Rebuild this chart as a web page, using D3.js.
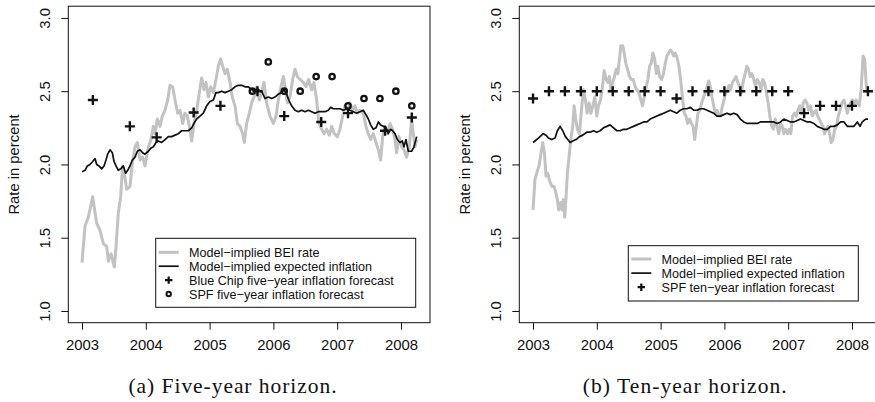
<!DOCTYPE html>
<html><head><meta charset="utf-8">
<script src="https://cdn.jsdelivr.net/npm/d3@7"></script>
<style>
body{margin:0;background:#fff}
svg{display:block}
text{font-family:"Liberation Sans",Arial,Helvetica,sans-serif;fill:#111}
</style>
</head><body>
<svg id="c" width="875" height="402"></svg>
<script>
// ---------- data ----------
const yearTicks = [2003, 2004, 2005, 2006, 2007, 2008];
const rateTicks = [1.0, 1.5, 2.0, 2.5, 3.0];
const rateTickLabels = ["1.0", "1.5", "2.0", "2.5", "3.0"];

// Panel (a): five-year horizon
const bei5Date = [2003.000,2003.047,2003.099,2003.167,2003.204,2003.230,2003.282,2003.334,2003.387,2003.413,
2003.455,2003.507,2003.533,2003.569,2003.606,2003.637,2003.664,2003.700,2003.752,2003.789,
2003.831,2003.867,2003.909,2003.951,2003.987,2004.040,2004.082,2004.118,2004.144,2004.181,
2004.223,2004.259,2004.301,2004.343,2004.379,2004.421,2004.458,2004.499,2004.536,2004.578,
2004.614,2004.651,2004.682,2004.719,2004.755,2004.797,2004.839,2004.876,2004.912,2004.944,
2004.980,2005.017,2005.059,2005.100,2005.137,2005.173,2005.205,2005.241,2005.278,2005.320,
2005.356,2005.398,2005.435,2005.476,2005.518,2005.544,2005.581,2005.623,2005.659,2005.696,
2005.738,2005.779,2005.816,2005.853,2005.894,2005.947,2005.999,2006.041,2006.077,2006.119,
2006.156,2006.182,2006.218,2006.260,2006.302,2006.339,2006.375,2006.417,2006.469,2006.511,
2006.553,2006.600,2006.636,2006.678,2006.715,2006.757,2006.793,2006.835,2006.877,2006.913,
2006.955,2007.002,2007.044,2007.086,2007.122,2007.164,2007.201,2007.242,2007.279,2007.316,
2007.357,2007.410,2007.451,2007.488,2007.525,2007.566,2007.608,2007.645,2007.681,2007.713,
2007.749,2007.786,2007.828,2007.869,2007.906,2007.932,2007.969,2008.010,2008.047,2008.089,
2008.131,2008.167,2008.193,2008.219,2008.246];
const bei5Rate = [1.33,1.58,1.64,1.78,1.67,1.60,1.55,1.46,1.44,1.34,
1.39,1.30,1.44,1.67,1.78,1.99,1.94,1.83,1.85,2.01,
2.12,2.15,2.03,2.05,1.99,2.12,2.17,2.26,2.21,2.31,
2.26,2.33,2.37,2.44,2.54,2.53,2.44,2.35,2.37,2.28,
2.35,2.33,2.26,2.16,2.28,2.37,2.49,2.59,2.51,2.56,
2.46,2.53,2.49,2.58,2.67,2.72,2.67,2.62,2.65,2.56,
2.46,2.40,2.28,2.26,2.21,2.15,2.28,2.35,2.42,2.46,
2.53,2.44,2.49,2.56,2.42,2.33,2.28,2.33,2.44,2.53,
2.60,2.53,2.42,2.46,2.58,2.65,2.60,2.58,2.56,2.53,
2.58,2.51,2.56,2.44,2.28,2.24,2.21,2.24,2.20,2.26,
2.21,2.19,2.24,2.33,2.40,2.37,2.42,2.37,2.40,2.35,
2.37,2.35,2.26,2.21,2.17,2.21,2.15,2.10,2.03,2.19,
2.26,2.21,2.28,2.24,2.17,2.08,2.19,2.12,2.10,2.05,
2.12,2.31,2.21,2.12,2.17];

const ei5Date = [2003.000,2003.047,2003.084,2003.125,2003.167,2003.204,2003.230,2003.266,2003.308,2003.345,
2003.376,2003.402,2003.439,2003.475,2003.502,2003.533,2003.569,2003.606,2003.648,2003.684,
2003.716,2003.752,2003.789,2003.831,2003.867,2003.909,2003.951,2003.987,2004.040,2004.076,
2004.118,2004.160,2004.196,2004.249,2004.301,2004.353,2004.405,2004.458,2004.510,2004.562,
2004.614,2004.667,2004.719,2004.755,2004.797,2004.850,2004.902,2004.954,2005.006,2005.059,
2005.100,2005.137,2005.189,2005.241,2005.294,2005.346,2005.398,2005.450,2005.503,2005.555,
2005.607,2005.659,2005.712,2005.764,2005.816,2005.868,2005.920,2005.973,2006.025,2006.077,
2006.130,2006.166,2006.208,2006.250,2006.286,2006.339,2006.391,2006.443,2006.495,2006.548,
2006.600,2006.652,2006.704,2006.757,2006.809,2006.861,2006.898,2006.939,2006.992,2007.044,
2007.096,2007.148,2007.201,2007.253,2007.305,2007.357,2007.410,2007.451,2007.488,2007.525,
2007.566,2007.608,2007.645,2007.681,2007.723,2007.765,2007.801,2007.838,2007.869,2007.906,
2007.943,2007.984,2008.021,2008.047,2008.078,2008.115,2008.167,2008.204,2008.246];
const ei5Rate = [1.95,1.96,1.99,2.00,2.02,2.04,2.00,1.99,1.97,1.99,
2.03,2.07,2.10,2.08,2.02,1.99,1.96,1.97,1.99,1.94,
1.96,1.99,2.03,2.05,2.09,2.10,2.08,2.07,2.09,2.11,
2.12,2.15,2.16,2.15,2.17,2.19,2.19,2.20,2.21,2.23,
2.23,2.23,2.25,2.28,2.31,2.33,2.35,2.40,2.43,2.44,
2.49,2.49,2.50,2.49,2.50,2.51,2.53,2.54,2.54,2.53,
2.53,2.51,2.51,2.51,2.50,2.45,2.46,2.45,2.46,2.48,
2.49,2.51,2.48,2.43,2.40,2.37,2.36,2.37,2.36,2.37,
2.36,2.35,2.36,2.36,2.36,2.37,2.39,2.38,2.38,2.38,
2.37,2.38,2.37,2.36,2.35,2.36,2.37,2.34,2.31,2.27,
2.24,2.25,2.29,2.27,2.26,2.25,2.21,2.24,2.23,2.21,
2.17,2.15,2.16,2.12,2.17,2.09,2.09,2.12,2.19];

const blueChip5Date = [2003.17,2003.75,2004.17,2004.75,2005.17,2005.75,2006.17,2006.75,2007.17,2007.75,2008.17];
const blueChip5Rate = [2.44,2.26,2.185,2.355,2.40,2.50,2.33,2.29,2.35,2.23,2.32];

const spf5Date = [2005.67,2005.92,2006.17,2006.42,2006.67,2006.92,2007.17,2007.42,2007.67,2007.92,2008.17];
const spf5Rate = [2.50,2.70,2.50,2.50,2.60,2.60,2.40,2.45,2.45,2.50,2.40];

// Panel (b): ten-year horizon
const bei10Date = [2003.000,2003.031,2003.058,2003.094,2003.126,2003.152,2003.178,2003.204,2003.230,2003.267,
2003.298,2003.330,2003.361,2003.382,2003.403,2003.435,2003.455,2003.476,2003.497,2003.518,
2003.539,2003.565,2003.592,2003.623,2003.644,2003.670,2003.696,2003.728,2003.759,2003.791,
2003.822,2003.848,2003.880,2003.906,2003.937,2003.969,2004.000,2004.026,2004.058,2004.089,
2004.115,2004.147,2004.173,2004.199,2004.220,2004.251,2004.277,2004.304,2004.330,2004.356,
2004.377,2004.408,2004.429,2004.455,2004.482,2004.513,2004.539,2004.571,2004.602,2004.628,
2004.660,2004.691,2004.717,2004.743,2004.775,2004.801,2004.827,2004.853,2004.880,2004.906,
2004.932,2004.958,2004.984,2005.016,2005.047,2005.073,2005.099,2005.126,2005.152,2005.178,
2005.204,2005.230,2005.257,2005.288,2005.314,2005.346,2005.372,2005.398,2005.424,2005.455,
2005.482,2005.508,2005.534,2005.560,2005.586,2005.613,2005.644,2005.675,2005.702,2005.728,
2005.754,2005.780,2005.806,2005.832,2005.859,2005.885,2005.911,2005.937,2005.969,2005.995,
2006.021,2006.047,2006.073,2006.099,2006.126,2006.157,2006.183,2006.209,2006.241,2006.267,
2006.293,2006.325,2006.351,2006.377,2006.403,2006.429,2006.461,2006.487,2006.513,2006.545,
2006.576,2006.602,2006.628,2006.660,2006.686,2006.712,2006.743,2006.770,2006.796,2006.827,
2006.853,2006.880,2006.906,2006.932,2006.958,2006.990,2007.016,2007.042,2007.068,2007.099,
2007.126,2007.152,2007.183,2007.209,2007.236,2007.267,2007.293,2007.319,2007.351,2007.377,
2007.403,2007.435,2007.461,2007.487,2007.518,2007.545,2007.571,2007.597,2007.623,2007.649,
2007.675,2007.702,2007.728,2007.759,2007.785,2007.812,2007.843,2007.874,2007.901,2007.927,
2007.953,2007.979,2008.005,2008.031,2008.063,2008.089,2008.115,2008.147,2008.173,2008.199,
2008.225,2008.241];
const bei10Rate = [1.69,1.90,1.94,1.99,2.08,2.15,2.08,1.92,1.94,1.88,
1.85,1.85,1.80,1.76,1.69,1.74,1.69,1.76,1.64,1.78,
1.94,2.05,2.17,2.26,2.40,2.31,2.24,2.21,2.37,2.51,
2.44,2.35,2.42,2.35,2.40,2.46,2.33,2.40,2.44,2.53,
2.64,2.58,2.56,2.60,2.51,2.56,2.60,2.65,2.62,2.72,
2.81,2.81,2.76,2.69,2.65,2.60,2.58,2.58,2.53,2.51,
2.49,2.44,2.40,2.46,2.53,2.58,2.67,2.69,2.76,2.72,
2.62,2.67,2.60,2.58,2.62,2.69,2.74,2.76,2.78,2.77,
2.74,2.76,2.73,2.67,2.58,2.44,2.35,2.33,2.28,2.31,
2.28,2.26,2.17,2.26,2.35,2.37,2.42,2.46,2.49,2.53,
2.57,2.53,2.46,2.40,2.35,2.37,2.33,2.33,2.40,2.44,
2.49,2.51,2.54,2.51,2.56,2.58,2.60,2.56,2.53,2.49,
2.56,2.62,2.67,2.65,2.60,2.62,2.58,2.53,2.58,2.56,
2.51,2.58,2.56,2.49,2.42,2.33,2.26,2.24,2.31,2.26,
2.21,2.28,2.26,2.21,2.24,2.21,2.24,2.21,2.33,2.35,
2.33,2.37,2.40,2.35,2.42,2.44,2.42,2.37,2.40,2.33,
2.35,2.37,2.33,2.31,2.28,2.26,2.21,2.24,2.26,2.21,
2.15,2.17,2.24,2.26,2.33,2.37,2.42,2.44,2.40,2.35,
2.40,2.42,2.44,2.40,2.44,2.42,2.40,2.53,2.74,2.72,
2.53,2.49];

const ei10Date = [2003.000,2003.058,2003.110,2003.162,2003.204,2003.241,2003.293,2003.346,2003.382,2003.424,
2003.466,2003.508,2003.545,2003.581,2003.623,2003.675,2003.728,2003.780,2003.843,2003.895,
2003.948,2004.000,2004.052,2004.105,2004.157,2004.209,2004.262,2004.314,2004.366,2004.419,
2004.471,2004.524,2004.576,2004.628,2004.681,2004.733,2004.785,2004.838,2004.890,2004.942,
2004.995,2005.047,2005.099,2005.152,2005.204,2005.257,2005.309,2005.361,2005.414,2005.466,
2005.518,2005.571,2005.623,2005.675,2005.728,2005.780,2005.832,2005.885,2005.937,2005.990,
2006.042,2006.094,2006.147,2006.199,2006.251,2006.304,2006.356,2006.408,2006.461,2006.513,
2006.565,2006.618,2006.670,2006.723,2006.775,2006.827,2006.880,2006.932,2006.984,2007.037,
2007.089,2007.141,2007.194,2007.246,2007.298,2007.351,2007.403,2007.455,2007.508,2007.560,
2007.613,2007.665,2007.717,2007.770,2007.822,2007.874,2007.927,2007.979,2008.031,2008.084,
2008.126,2008.162,2008.215,2008.251];
const ei10Rate = [2.15,2.17,2.19,2.21,2.20,2.18,2.17,2.18,2.23,2.26,
2.23,2.19,2.17,2.15,2.16,2.17,2.19,2.20,2.22,2.22,
2.23,2.22,2.23,2.25,2.26,2.27,2.25,2.23,2.23,2.24,
2.24,2.25,2.26,2.27,2.28,2.29,2.29,2.31,2.32,2.33,
2.34,2.35,2.36,2.37,2.36,2.35,2.37,2.38,2.38,2.39,
2.37,2.37,2.38,2.38,2.37,2.36,2.35,2.33,2.33,2.34,
2.35,2.34,2.35,2.34,2.31,2.29,2.28,2.28,2.28,2.28,
2.29,2.29,2.29,2.29,2.29,2.28,2.29,2.31,2.30,2.29,
2.29,2.30,2.31,2.30,2.29,2.29,2.28,2.26,2.25,2.24,
2.24,2.26,2.26,2.27,2.29,2.29,2.26,2.26,2.26,2.29,
2.26,2.29,2.31,2.31];

const spf10Date = [2003.00,2003.25,2003.50,2003.75,2004.00,2004.25,2004.50,2004.75,2005.00,2005.25,2005.50,
2005.75,2006.00,2006.25,2006.50,2006.75,2007.00,2007.25,2007.50,2007.75,2008.00,2008.25];
const spf10Rate = [2.45,2.50,2.50,2.50,2.50,2.50,2.50,2.50,2.50,2.45,2.50,
2.50,2.50,2.50,2.50,2.50,2.50,2.35,2.40,2.40,2.40,2.50];

const legend5 = ["Model\u2212implied BEI rate", "Model\u2212implied expected inflation",
  "Blue Chip five\u2212year inflation forecast", "SPF five\u2212year inflation forecast"];
const legend10 = ["Model\u2212implied BEI rate", "Model\u2212implied expected inflation",
  "SPF ten\u2212year inflation forecast"];
const captions = ["(a) Five-year horizon.", "(b) Ten-year horizon."];
const axisTitle = "Rate in percent";

// ---------- drawing ----------
const GRAY = "#c2c2c2";
const svg = d3.select("#c");
const frame = {left: 68.3, right: 430, top: 6.2, bottom: 322.7};
const x = d3.scaleLinear().domain([2002.785, 2008.455]).range([frame.left, frame.right]);
const y = d3.scaleLinear().domain([0.92, 3.08]).range([frame.bottom, frame.top]);
const zip = (a, b) => a.map((d, i) => [d, b[i]]);
const line = d3.line().x(d => x(d[0])).y(d => y(d[1]));
const plusPath = s => `M${-s},0H${s}M0,${-s}V${s}`;

function drawPanel(dx, cfg) {
  const g = svg.append("g").attr("transform", `translate(${dx},0)`);

  // series
  g.append("path").datum(zip(cfg.beiDate, cfg.beiRate)).attr("d", line)
    .attr("fill", "none").attr("stroke", GRAY).attr("stroke-width", 3)
    .attr("stroke-linejoin", "round");
  g.append("path").datum(zip(cfg.eiDate, cfg.eiRate)).attr("d", line)
    .attr("fill", "none").attr("stroke", "#111").attr("stroke-width", 1.7)
    .attr("stroke-linejoin", "round");

  cfg.markers.forEach(m => {
    const pts = zip(m.date, m.rate);
    if (m.shape === "plus") {
      g.append("g").selectAll("path").data(pts).join("path")
        .attr("transform", d => `translate(${x(d[0])},${y(d[1])})`)
        .attr("d", plusPath(5)).attr("stroke", "#111").attr("stroke-width", 2.4).attr("fill", "none");
    } else {
      g.append("g").selectAll("circle").data(pts).join("circle")
        .attr("cx", d => x(d[0])).attr("cy", d => y(d[1])).attr("r", 2.7)
        .attr("stroke", "#111").attr("stroke-width", 2.3).attr("fill", "none");
    }
  });

  // frame
  g.append("rect").attr("x", frame.left).attr("y", frame.top)
    .attr("width", frame.right - frame.left).attr("height", frame.bottom - frame.top)
    .attr("fill", "none").attr("stroke", "#111").attr("stroke-width", 1);

  // axes
  const ax = g.append("g").attr("transform", `translate(0,${frame.bottom})`)
    .call(d3.axisBottom(x).tickValues(yearTicks).tickFormat(d3.format("d")).tickSize(7).tickSizeOuter(0).tickPadding(9.5));
  ax.select(".domain").remove();
  ax.selectAll("line").attr("stroke", "#111");
  ax.selectAll("text").attr("font-size", 14.9).attr("fill", "#111")
    .style("font-family", '"Liberation Sans",Arial,sans-serif');

  const ay = g.append("g").attr("transform", `translate(${frame.left},0)`)
    .call(d3.axisLeft(y).tickValues(rateTicks).tickFormat((d, i) => rateTickLabels[i]).tickSize(7).tickSizeOuter(0));
  ay.select(".domain").remove();
  ay.selectAll("line").attr("stroke", "#111");
  ay.selectAll("text").attr("x", null).attr("dy", null)
    .attr("text-anchor", "middle").attr("transform", "translate(-18.3,0) rotate(-90)")
    .attr("font-size", 14.9).attr("fill", "#111")
    .style("font-family", '"Liberation Sans",Arial,sans-serif');

  g.append("text").attr("transform", `translate(18.5,${(frame.top + frame.bottom) / 2}) rotate(-90)`)
    .attr("text-anchor", "middle").attr("font-size", 14.8).text(axisTitle);

  // legend
  const L = cfg.legend;
  const lg = g.append("g");
  lg.append("rect").attr("x", L.x0).attr("y", L.y0).attr("width", L.x1 - L.x0).attr("height", L.y1 - L.y0)
    .attr("fill", "#fff").attr("stroke", "#111").attr("stroke-width", 1);
  L.items.forEach((it, i) => {
    const cy = L.y0 + L.first + i * L.step;
    if (it.kind === "gray" || it.kind === "black") {
      lg.append("line").attr("x1", L.x0 + 3).attr("x2", L.x0 + 23).attr("y1", cy).attr("y2", cy)
        .attr("stroke", it.kind === "gray" ? GRAY : "#111").attr("stroke-width", it.kind === "gray" ? 3 : 1.7);
    } else if (it.kind === "plus") {
      lg.append("path").attr("transform", `translate(${L.x0 + 13},${cy})`).attr("d", plusPath(3.7))
        .attr("stroke", "#111").attr("stroke-width", 2.2);
    } else {
      lg.append("circle").attr("cx", L.x0 + 13).attr("cy", cy).attr("r", 2.2)
        .attr("fill", "none").attr("stroke", "#111").attr("stroke-width", 2);
    }
    lg.append("text").attr("x", L.x0 + 33.3).attr("y", cy).attr("dy", "0.36em")
      .attr("font-size", 12.6).text(it.label);
  });

  // caption
  g.append("text").attr("x", cfg.captionX).attr("y", 393).attr("text-anchor", "middle")
    .style("font-family", '"Liberation Serif","Times New Roman",serif')
    .attr("font-size", 21.5).attr("textLength", cfg.captionW).attr("lengthAdjust", "spacing")
    .text(cfg.caption);
}

drawPanel(0, {
  beiDate: bei5Date, beiRate: bei5Rate, eiDate: ei5Date, eiRate: ei5Rate,
  markers: [{shape: "plus", date: blueChip5Date, rate: blueChip5Rate},
            {shape: "circle", date: spf5Date, rate: spf5Rate}],
  legend: {x0: 155.7, x1: 415.7, y0: 238.3, y1: 307.3, first: 14, step: 13.9,
    items: [{kind: "gray", label: legend5[0]}, {kind: "black", label: legend5[1]},
            {kind: "plus", label: legend5[2]}, {kind: "circle", label: legend5[3]}]},
  caption: captions[0], captionX: 232.5, captionW: 208
});

drawPanel(451, {
  beiDate: bei10Date, beiRate: bei10Rate, eiDate: ei10Date, eiRate: ei10Rate,
  markers: [{shape: "plus", date: spf10Date, rate: spf10Rate}],
  legend: {x0: 177.3, x1: 407.3, y0: 245.7, y1: 301, first: 13.3, step: 14.1,
    items: [{kind: "gray", label: legend10[0]}, {kind: "black", label: legend10[1]},
            {kind: "plus", label: legend10[2]}]},
  caption: captions[1], captionX: 233.7, captionW: 204
});
</script>
</body></html>
